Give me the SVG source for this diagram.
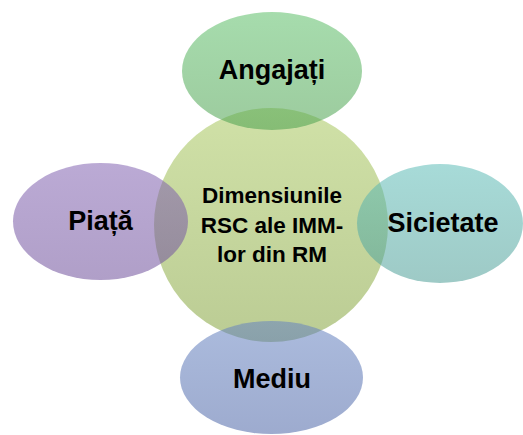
<svg xmlns="http://www.w3.org/2000/svg" width="523" height="435" viewBox="0 0 523 435">
<defs>
<linearGradient id="gC" x1="0" y1="0" x2="0" y2="1"><stop offset="0" stop-color="#d0e1a7"/><stop offset="1" stop-color="#bbcc94"/></linearGradient>
<linearGradient id="gG" x1="0" y1="0" x2="0" y2="1"><stop offset="0" stop-color="#5dbf69"/><stop offset="1" stop-color="#4ba04e"/></linearGradient>
<linearGradient id="gP" x1="0" y1="0" x2="0" y2="1"><stop offset="0" stop-color="#8364b2"/><stop offset="1" stop-color="#6f509b"/></linearGradient>
<linearGradient id="gT" x1="0" y1="0" x2="0" y2="1"><stop offset="0" stop-color="#5fbdb8"/><stop offset="1" stop-color="#4e9e97"/></linearGradient>
<linearGradient id="gB" x1="0" y1="0" x2="0" y2="1"><stop offset="0" stop-color="#6683c1"/><stop offset="1" stop-color="#4d66a7"/></linearGradient>
</defs>
<style>
.sat{fill-opacity:0.55}
text{font-family:"Liberation Sans",Arial,sans-serif;font-weight:bold;fill:#000;text-anchor:middle}
.lbl{font-size:27px}
.ctr{font-size:22.5px}
</style>
<rect width="523" height="435" fill="#ffffff"/>
<g id="center">
<circle cx="271" cy="225" r="117" fill="url(#gC)"/>
<text class="ctr" x="272" y="203">Dimensiunile</text>
<text class="ctr" x="272" y="233">RSC ale IMM-</text>
<text class="ctr" x="272" y="262">lor din RM</text>
</g>
<g id="angajati">
<ellipse class="sat" cx="272" cy="71" rx="90" ry="59" fill="url(#gG)"/>
<text class="lbl" x="272" y="79">Angajați</text>
</g>
<g id="piata">
<ellipse class="sat" cx="100.5" cy="221.5" rx="87.5" ry="58.5" fill="url(#gP)"/>
<text class="lbl" x="100.5" y="230">Piață</text>
</g>
<g id="societate">
<ellipse class="sat" cx="440" cy="223.5" rx="83" ry="59.5" fill="url(#gT)"/>
<text class="lbl" x="443" y="232">Sicietate</text>
</g>
<g id="mediu">
<ellipse class="sat" cx="271.5" cy="377.5" rx="91.5" ry="56.5" fill="url(#gB)"/>
<text class="lbl" x="272" y="388">Mediu</text>
</g>
<g id="connectors"/>
</svg>
